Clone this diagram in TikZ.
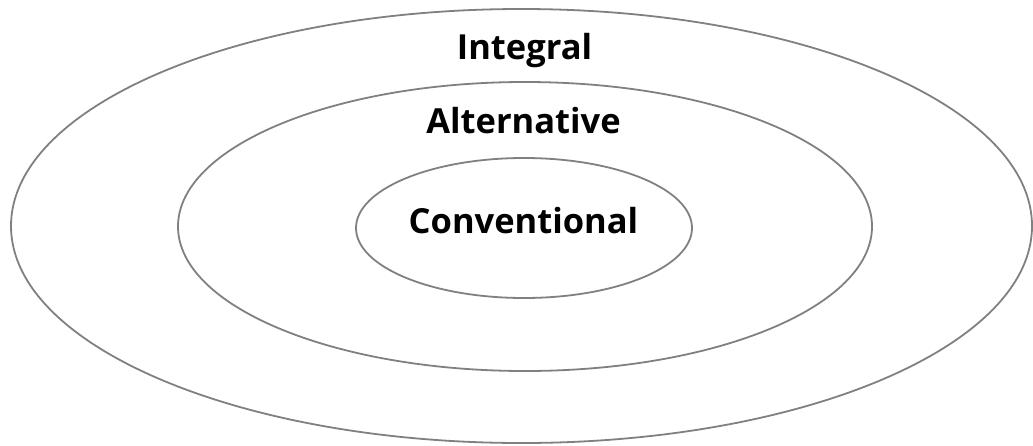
\documentclass[tikz,border=0pt]{standalone}
\usepackage{fontspec}
\setmainfont{Open Sans}
\definecolor{ringgray}{RGB}{128,128,128}
\begin{document}
\begin{tikzpicture}[x=1pt,y=-1pt,
  ring/.style={draw=ringgray, line width=1.8pt},
  lbl/.style={anchor=base, font=\bfseries\fontsize{34.5}{40}\selectfont, text=black, inner sep=0pt}]
\useasboundingbox (0,0) rectangle (1033,445);
\draw[ring] (521.5,226) ellipse [x radius=510.5, y radius=217];
\draw[ring] (525,226.5) ellipse [x radius=347, y radius=144.5];
\draw[ring] (524,228) ellipse [x radius=168, y radius=70];
\node[lbl] (integral) at (524.5,59) {Integral};
\node[lbl] (alternative) at (523.5,133) {Alternative};
\node[lbl] (conventional) at (523.5,233) {Conventional};
\end{tikzpicture}
\end{document}
